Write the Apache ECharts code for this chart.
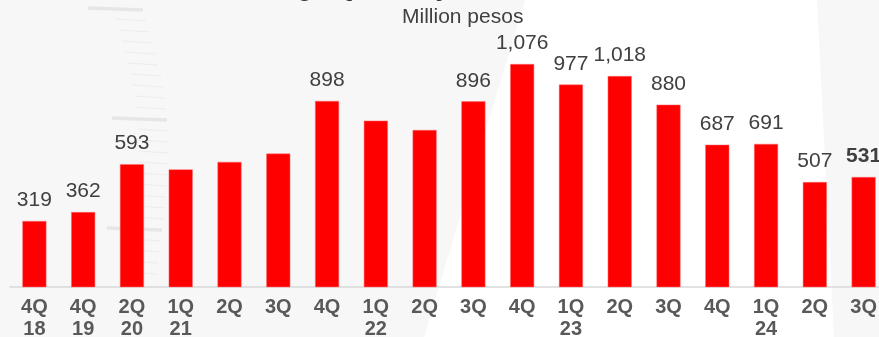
<!DOCTYPE html>
<html>
<head>
<meta charset="utf-8">
<script src="https://cdn.jsdelivr.net/npm/echarts@6/dist/echarts.min.js"></script>
<style>
  html, body { margin: 0; padding: 0; background: #f7f7f7; }
  #chart { width: 879px; height: 337px; }
</style>
</head>
<body>
<div id="chart"></div>
<script>
// Quarterly figures, million pesos
const quarters = ['4Q', '4Q', '2Q', '1Q', '2Q', '3Q', '4Q', '1Q', '2Q', '3Q', '4Q', '1Q', '2Q', '3Q', '4Q', '1Q', '2Q', '3Q'];
const years    = ['18', '19', '20', '21', '',   '',   '',   '22', '',   '',   '',   '23', '',   '',   '',   '24', '',   ''];
const values   = [319, 362, 593, 568, 604, 644, 898, 803, 758, 896, 1076, 977, 1018, 880, 687, 691, 507, 531];
// which bars carry a value label
const showLabel = [true, true, true, false, false, false, true, false, false, true, true, true, true, true, true, true, true, true];

const titleText = 'Earnings Quarterly';
const unitText = 'Million pesos';

const categories = quarters.map((q, i) => years[i] ? q + '\n' + years[i] : q);

const fmt = v => v.toLocaleString('en-US');

const barData = values.map((v, i) => {
  const last = i === values.length - 1;
  return {
    value: v,
    label: {
      show: showLabel[i],
      fontWeight: last ? 'bold' : 'normal'
    }
  };
});

// faint ruler strokes in the left background
const rulerMarks = [];
const rulerRight = [143, 146, 149, 152, 155, 158, 161, 163, 165, 166, 167, 168, 168, 168, 168, 167, 167, 166, 165, 164, 162, 161, 160, 158, 156];
for (let k = 0; k < rulerRight.length; k++) {
  const y = 9 + k * 11;
  const major = k % 10 === 0;
  const r = rulerRight[k];
  rulerMarks.push({
    type: 'line',
    silent: true,
    z: -9,
    shape: { x1: r - (major ? 55 : 30), y1: y - 1, x2: r, y2: y + 1 },
    style: { stroke: major ? '#e6e6e6' : '#ececec', lineWidth: major ? 3.5 : 1.2 }
  });
}

const chart = echarts.init(document.getElementById('chart'), null, { renderer: 'canvas' });

chart.setOption({
  backgroundColor: '#f7f7f7',
  animation: false,
  graphic: [
    {
      type: 'polygon',
      silent: true,
      z: -10,
      shape: { points: [[525, 0], [817, 0], [834, 337], [424, 337]] },
      style: { fill: '#ffffff' }
    },
    ...rulerMarks,
    {
      type: 'text',
      x: 216,
      y: 2,
      style: {
        text: titleText,
        font: 'bold 26px "Liberation Sans", Arial, sans-serif',
        fill: '#333333',
        verticalAlign: 'bottom'
      }
    },
    {
      type: 'text',
      left: 402,
      top: 7,
      style: {
        text: unitText,
        font: '21px "Liberation Sans", Arial, sans-serif',
        fill: '#404040'
      }
    }
  ],
  grid: {
    left: 10,
    right: -9,
    top: 38.3,
    bottom: 49.8,
    containLabel: false,
    outerBoundsMode: 'none'
  },
  xAxis: {
    type: 'category',
    data: categories,
    axisLine: { show: true, lineStyle: { color: '#d9d9d9', width: 1.5 } },
    axisTick: { show: false },
    axisLabel: {
      interval: 0,
      margin: 9,
      color: '#595959',
      fontWeight: 'bold',
      fontSize: 20,
      lineHeight: 22,
      fontFamily: '"Liberation Sans", Arial, sans-serif'
    }
  },
  yAxis: {
    type: 'value',
    min: 0,
    max: 1200,
    show: false,
    splitLine: { show: false }
  },
  series: [{
    type: 'bar',
    data: barData,
    barWidth: 24,
    itemStyle: { color: '#ff0000', borderColor: '#ff6f6f', borderWidth: 0.5 },
    label: {
      show: true,
      position: 'top',
      distance: 10,
      color: '#404040',
      fontSize: 21,
      fontFamily: '"Liberation Sans", Arial, sans-serif',
      formatter: p => fmt(p.value)
    }
  }]
});
</script>
</body>
</html>
